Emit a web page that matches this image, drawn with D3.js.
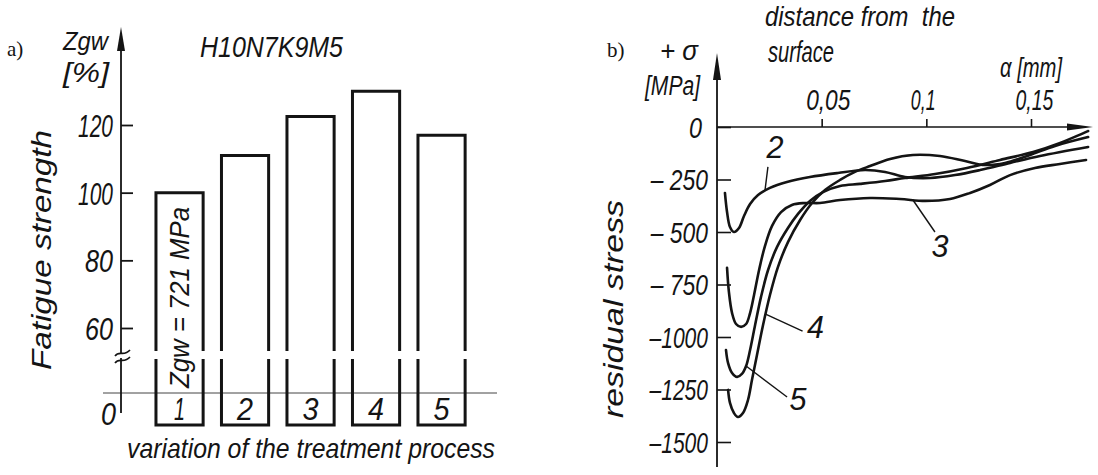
<!DOCTYPE html>
<html>
<head>
<meta charset="utf-8">
<script src="https://cdn.jsdelivr.net/npm/d3@7"></script>
<style>
  html, body { margin: 0; padding: 0; background: #fff; }
  svg { display: block; }
  text { font-family: "Liberation Sans", Arial, sans-serif; font-style: italic; fill: #141414; }
</style>
</head>
<body>
<svg id="chart" width="1098" height="475"></svg>
<script>
// ---------------- a) fatigue strength per treatment variant ----------------
const variants = ["1", "2", "3", "4", "5"];
const fatigueStrength = [100, 111, 122.5, 130, 117];   // Zgw [%], variant 1 = 721 MPa
const strengthTicks = [60, 80, 100, 120];

// ---------------- b) residual stress vs. depth, [a mm, sigma MPa] ----------------
const profile2 = [
  [0.0038, -314], [0.0048, -405], [0.0062, -476], [0.0081, -500], [0.0105, -481],
  [0.0129, -424], [0.0158, -367], [0.0196, -324], [0.0253, -290], [0.0334, -262],
  [0.0444, -238], [0.0578, -219], [0.0707, -205], [0.0803, -214], [0.0898, -238],
  [0.1018, -243], [0.1137, -229], [0.1257, -205], [0.1400, -171], [0.1543, -138],
  [0.1773, -95]
];
const profile3 = [
  [0.0048, -671], [0.0057, -786], [0.0072, -886], [0.0091, -938], [0.0115, -952],
  [0.0139, -938], [0.0158, -886], [0.0177, -800], [0.0201, -681], [0.0229, -567],
  [0.0263, -471], [0.0306, -405], [0.0358, -371], [0.0420, -362], [0.0492, -362],
  [0.0588, -348], [0.0731, -338], [0.0874, -343], [0.0994, -352], [0.1113, -343],
  [0.1209, -314], [0.1304, -276], [0.1400, -229], [0.1519, -195], [0.1638, -176],
  [0.1763, -157]
];
const profile4 = [
  [0.0053, -1252], [0.0062, -1314], [0.0081, -1362], [0.0100, -1381], [0.0124, -1362],
  [0.0148, -1300], [0.0167, -1205], [0.0191, -1086], [0.0220, -943], [0.0253, -800],
  [0.0291, -667], [0.0339, -548], [0.0397, -443], [0.0454, -362], [0.0516, -300],
  [0.0588, -252], [0.0659, -214], [0.0731, -186], [0.0827, -152], [0.0936, -133],
  [0.1065, -138], [0.1185, -162], [0.1280, -181], [0.1376, -171], [0.1495, -133],
  [0.1615, -90], [0.1773, -48]
];
const profile5 = [
  [0.0043, -1062], [0.0053, -1124], [0.0072, -1171], [0.0096, -1190], [0.0119, -1176],
  [0.0139, -1138], [0.0158, -1062], [0.0182, -943], [0.0210, -810], [0.0244, -681],
  [0.0287, -571], [0.0339, -481], [0.0387, -414], [0.0444, -352], [0.0506, -310],
  [0.0588, -281], [0.0683, -271], [0.0803, -257], [0.0898, -243], [0.1042, -224],
  [0.1194, -195], [0.1352, -157], [0.1510, -119], [0.1639, -76], [0.1773, -19]
];
const depthTicks = [0.05, 0.1, 0.15];
const depthTickLabels = ["0,05", "0,1", "0,15"];
const stressTicks = [0, -250, -500, -750, -1000, -1250, -1500];
const stressTickLabels = ["0", "\u2013 250", "\u2013 500", "\u2013 750", "\u20131000", "\u20131250", "\u20131500"];

const INK = "#141414";
const svg = d3.select("#chart");

// narrow lettering: "1" is slim, other glyphs share one width
function narrowWidth(str, unit) {
  let w = 0;
  for (const c of str) {
    if (c === "1") w += unit * 0.5;
    else if (c === "," || c === " ") w += unit * 0.4;
    else w += unit;
  }
  return w;
}

function addText(parent, str, o = {}) {
  const t = parent.append("text")
    .attr("transform", `translate(${o.x || 0},${o.y || 0})` + (o.rotate ? ` rotate(${o.rotate})` : ""))
    .attr("text-anchor", o.anchor || "start")
    .style("font-size", (o.size || 26) + "px")
    .text(str);
  if (o.serif) t.style("font-family", '"Liberation Serif", "Times New Roman", serif').style("font-style", "normal");
  if (o.width) t.attr("textLength", o.width).attr("lengthAdjust", "spacingAndGlyphs");
  return t;
}

function arrowHead(parent, tip, dir, len, half) {
  const [x, y] = tip;
  const d = dir === "up"
    ? `M${x},${y}L${x + half},${y + len}L${x - half},${y + len}Z`
    : `M${x},${y}L${x - len},${y - half}L${x - len},${y + half}Z`;
  parent.append("path").attr("d", d).attr("fill", INK);
}

// ===================== a) =====================
const gA = svg.append("g");
const xBar = d3.scaleBand().domain(variants).range([146.8, 474.3]).paddingInner(0.28).paddingOuter(0.14);
const yBar = d3.scaleLinear().domain([60, 120]).range([328, 125]);
const axisAX = 121, breakTop = 351, breakBottom = 359, zeroY = 393, barFoot = 425;

// zero reference line
gA.append("line").attr("x1", 103).attr("x2", 497).attr("y1", zeroY).attr("y2", zeroY)
  .attr("stroke", "#444").attr("stroke-width", 1);

// bars: upper part ends at the scale break, base part carries the variant number
const bars = gA.selectAll("g.bar").data(variants.map((v, i) => ({ v, val: fatigueStrength[i] })))
  .join("g").attr("class", "bar");
bars.append("path")
  .attr("d", d => {
    const x0 = xBar(d.v), x1 = x0 + xBar.bandwidth();
    return `M${x0},${breakTop}V${yBar(d.val)}H${x1}V${breakTop}`;
  })
  .attr("fill", "none").attr("stroke", INK).attr("stroke-width", 3);
bars.append("path")
  .attr("d", d => {
    const x0 = xBar(d.v), x1 = x0 + xBar.bandwidth();
    return `M${x0},${breakBottom}V${barFoot}H${x1}V${breakBottom}`;
  })
  .attr("fill", "none").attr("stroke", INK).attr("stroke-width", 3);
bars.each(function (d) {
  addText(d3.select(this), d.v, {
    x: xBar(d.v) + xBar.bandwidth() / 2, y: barFoot - 5, size: 31, anchor: "middle",
    width: d.v === "1" ? 11 : 16
  });
});

// vertical axis with arrow and break
gA.append("line").attr("x1", axisAX).attr("x2", axisAX).attr("y1", 48).attr("y2", 413)
  .attr("stroke", INK).attr("stroke-width", 1.8);
arrowHead(gA, [axisAX, 27], "up", 24, 4);
gA.append("rect").attr("x", axisAX - 2).attr("y", 354).attr("width", 4).attr("height", 4).attr("fill", "#fff");
gA.append("path").attr("d", `M${axisAX - 6},356 C${axisAX - 2},350 ${axisAX + 3},357 ${axisAX + 9},350`)
  .attr("fill", "none").attr("stroke", INK).attr("stroke-width", 1.6);
gA.append("path").attr("d", `M${axisAX - 6},363 C${axisAX - 2},357 ${axisAX + 3},364 ${axisAX + 9},357`)
  .attr("fill", "none").attr("stroke", INK).attr("stroke-width", 1.6);

const axA = gA.append("g").attr("transform", `translate(${axisAX},0)`)
  .call(d3.axisLeft(yBar).tickValues(strengthTicks).tickSizeInner(-12).tickSizeOuter(0).tickPadding(8));
axA.attr("font-size", null).attr("font-family", null);
axA.select(".domain").remove();
axA.selectAll("line").attr("stroke", INK).attr("stroke-width", 1.8);
axA.selectAll("text").attr("dy", "0.36em").style("font-size", "32px")
  .attr("textLength", d => narrowWidth(String(d), 14)).attr("lengthAdjust", "spacingAndGlyphs");
addText(gA, "0", { x: 116, y: zeroY + 32, size: 31, anchor: "end", width: 15 });

// titles and axis names
addText(gA, "a)", { x: 7, y: 56, size: 21, serif: true });
addText(gA, "Zgw", { x: 63, y: 50, size: 25, width: 45 });
addText(gA, "[%]", { x: 63, y: 82, size: 27, width: 46 });
addText(gA, "H10N7K9M5", { x: 200, y: 57, size: 29, width: 143 });
addText(gA, "Fatigue  strength", { x: 51, y: 370, rotate: -90, size: 27, width: 240 });
addText(gA, "variation of the treatment process", { x: 127, y: 458, size: 28, width: 368 });
addText(gA, "Zgw = 721 MPa", {
  x: xBar("1") + xBar.bandwidth() / 2 + 9, y: 388, rotate: -90, size: 27, width: 181
});

// ===================== b) =====================
const gB = svg.append("g");
const xDepth = d3.scaleLinear().domain([0, 0.15]).range([717, 1031]);
const yStress = d3.scaleLinear().domain([0, -1500]).range([127, 442]);
const ox = xDepth(0), oy = yStress(0);

// axes
gB.append("line").attr("x1", ox).attr("x2", ox).attr("y1", 76).attr("y2", 467)
  .attr("stroke", INK).attr("stroke-width", 1.8);
arrowHead(gB, [ox, 53], "up", 27, 4);
gB.append("line").attr("x1", ox).attr("x2", 1070).attr("y1", oy).attr("y2", oy)
  .attr("stroke", INK).attr("stroke-width", 1.6);
arrowHead(gB, [1093, oy], "right", 26, 3.5);

const axY = gB.append("g").attr("transform", `translate(${ox},0)`)
  .call(d3.axisLeft(yStress).tickValues(stressTicks).tickSizeInner(-14).tickSizeOuter(0).tickPadding(9)
    .tickFormat((d, i) => stressTickLabels[i]));
axY.attr("font-size", null).attr("font-family", null);
axY.select(".domain").remove();
axY.selectAll("line").attr("stroke", INK).attr("stroke-width", 1.6);
axY.selectAll("text").attr("dy", "0.36em").style("font-size", "29px")
  .attr("x", d => d === 0 ? -15 : -9)
  .attr("textLength", (d, i) => narrowWidth(stressTickLabels[i], 13)).attr("lengthAdjust", "spacingAndGlyphs");

const axX = gB.append("g").attr("transform", `translate(0,${oy})`)
  .call(d3.axisTop(xDepth).tickValues(depthTicks).tickSizeInner(8).tickSizeOuter(0).tickPadding(9)
    .tickFormat((d, i) => depthTickLabels[i]));
axX.attr("font-size", null).attr("font-family", null);
axX.select(".domain").remove();
axX.selectAll("line").attr("stroke", INK).attr("stroke-width", 1.6);
axX.selectAll("text").attr("text-anchor", "start").attr("x", -16).style("font-size", "30px")
  .attr("textLength", (d, i) => narrowWidth(depthTickLabels[i], 13)).attr("lengthAdjust", "spacingAndGlyphs");

// stress profiles
const stressLine = d3.line()
  .x(d => xDepth(d[0])).y(d => yStress(d[1]))
  .curve(d3.curveCatmullRom.alpha(0.5));
const profiles = [
  { id: "2", pts: profile2, at: 0.0229, leader: [3, -24], label: [10, -33] },
  { id: "3", pts: profile3, at: 0.0936, leader: [22, 32], label: [27, 57] },
  { id: "4", pts: profile4, at: 0.0232, leader: [37, 17], label: [50, 24] },
  { id: "5", pts: profile5, at: 0.0139, leader: [41, 31], label: [52, 44] }
];
gB.selectAll("path.profile").data(profiles).join("path")
  .attr("class", "profile")
  .attr("d", p => stressLine(p.pts))
  .attr("fill", "none").attr("stroke", INK).attr("stroke-width", 2.6)
  .attr("stroke-linecap", "round").attr("stroke-linejoin", "round");

// curve numbers with leader lines
function stressAt(pts, a) {
  for (let i = 1; i < pts.length; i++) {
    if (pts[i][0] >= a) {
      const [a0, s0] = pts[i - 1], [a1, s1] = pts[i];
      return s0 + (s1 - s0) * (a - a0) / (a1 - a0);
    }
  }
  return pts[pts.length - 1][1];
}
profiles.forEach(p => {
  const px = xDepth(p.at), py = yStress(stressAt(p.pts, p.at));
  gB.append("line").attr("x1", px).attr("y1", py)
    .attr("x2", px + p.leader[0]).attr("y2", py + p.leader[1])
    .attr("stroke", INK).attr("stroke-width", 1.4);
  addText(gB, p.id, { x: px + p.label[0], y: py + p.label[1], size: 32, anchor: "middle", width: 17 });
});

// titles and axis names
addText(gB, "b)", { x: 607, y: 57, size: 21, serif: true });
addText(gB, "+ \u03c3", { x: 660, y: 60, size: 27, width: 38 });
addText(gB, "[MPa]", { x: 645, y: 95, size: 27, width: 55 });
addText(gB, "distance from  the", { x: 765, y: 26, size: 28, width: 190 }).style("white-space", "pre");
addText(gB, "surface", { x: 768, y: 62, size: 29, width: 66 });
addText(gB, "\u03b1 [mm]", { x: 1000, y: 77, size: 27, width: 62 });
addText(gB, "residual  stress", { x: 623, y: 418, rotate: -90, size: 27, width: 218 });
</script>
</body>
</html>
